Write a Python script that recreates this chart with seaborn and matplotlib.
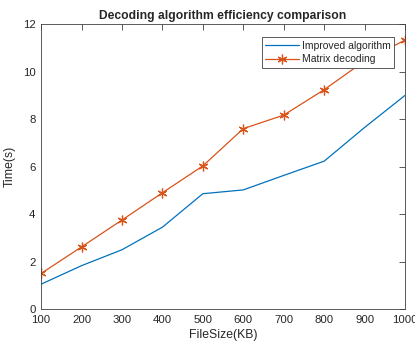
import matplotlib
matplotlib.use("Agg")
import matplotlib.pyplot as plt
import seaborn as sns
import pandas as pd

file_size = [100, 200, 300, 400, 500, 600, 700, 800, 900, 1000]
improved = [1.05, 1.83, 2.5, 3.45, 4.86, 5.02, 5.63, 6.23, 7.65, 9.0]
matrix = [1.5, 2.62, 3.75, 4.9, 6.03, 7.6, 8.17, 9.24, 10.45, 11.33]

sns.set_style("white")
plt.rcParams['font.family'] = ['Liberation Sans', 'DejaVu Sans']

fig = plt.figure(figsize=(4.15, 3.45), dpi=100)
ax = fig.add_axes([0.099, 0.104, 0.877, 0.826])

df = pd.DataFrame({"x": file_size, "Improved algorithm": improved, "Matrix decoding": matrix})
sns.lineplot(data=df, x="x", y="Improved algorithm", ax=ax, color="#0072BD", lw=0.9,
             label="Improved algorithm")
sns.lineplot(data=df, x="x", y="Matrix decoding", ax=ax, color="#D95319", lw=0.9,
             marker=(6, 2, 0), markersize=7, markeredgewidth=0.9, markeredgecolor="#D95319",
             label="Matrix decoding")

ax.set_xlim(100, 1000)
ax.set_ylim(0, 12)
ax.set_xticks(file_size)
ax.set_yticks([0, 2, 4, 6, 8, 10, 12])
ax.set_xlabel("FileSize(KB)", fontsize=8.8, color="#262626", labelpad=3)
ax.set_ylabel("Time(s)", fontsize=8.8, color="#262626", labelpad=5)
ax.set_title("Decoding algorithm efficiency comparison", fontsize=8.7, fontweight="bold", pad=4)

for s in ax.spines.values():
    s.set_color("#404040")
    s.set_linewidth(0.6)
    s.set_visible(True)
ax.tick_params(direction="in", length=4, width=0.6, color="#404040", labelcolor="#262626",
               labelsize=8.2, top=True, right=True, pad=4)

leg = ax.legend(loc="upper right", bbox_to_anchor=(0.97, 0.955), fontsize=7.5, frameon=True,
                fancybox=False, edgecolor="#404040", framealpha=1, borderpad=0.35,
                handlelength=3.2, labelspacing=0.35, handletextpad=0.3, borderaxespad=0)
leg.get_frame().set_linewidth(0.6)

fig.savefig("out.png", dpi=100)
